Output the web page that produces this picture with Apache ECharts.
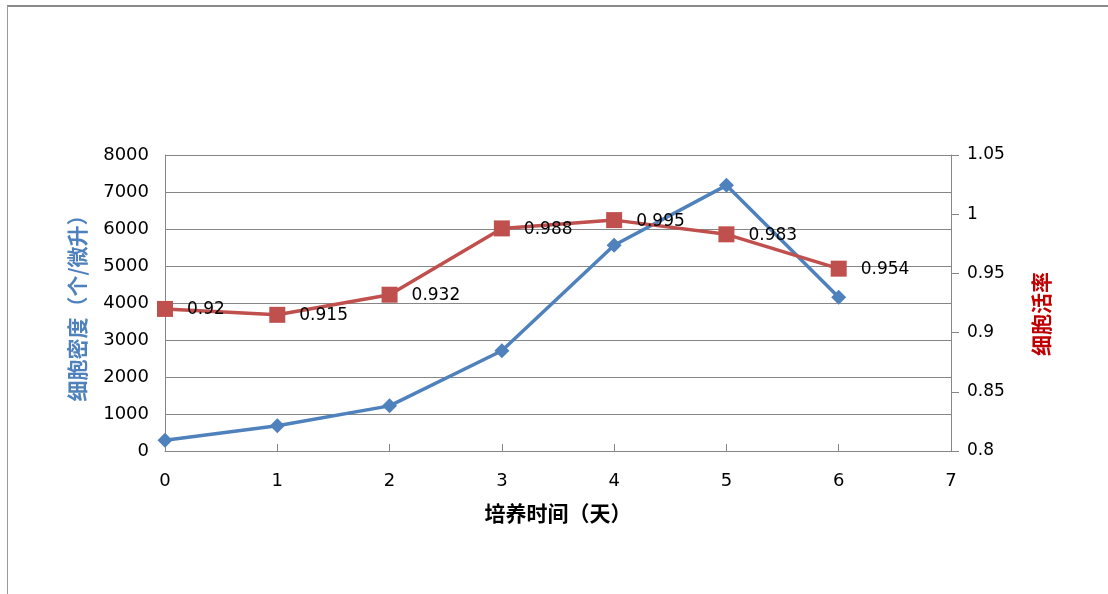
<!DOCTYPE html>
<html>
<head>
<meta charset="utf-8">
<script src="https://cdn.jsdelivr.net/npm/echarts@6/dist/echarts.min.js"></script>
<style>
  html, body { margin: 0; padding: 0; background: #fff; }
  #chart { width: 1108px; height: 594px; }
</style>
</head>
<body>
<div id="chart"></div>
<script>
// Culture days and measured values
const days = [0, 1, 2, 3, 4, 5, 6];
const density = [290, 680, 1220, 2710, 5560, 7180, 4155];      // cells per microlitre
const viability = [0.92, 0.915, 0.932, 0.988, 0.995, 0.983, 0.954];

const numFont = '"DejaVu Sans", "Liberation Sans", sans-serif';
const cjkFont = '"Noto Sans CJK SC", sans-serif';
const gridGray = '#868686';

const chart = echarts.init(document.getElementById('chart'), null, { renderer: 'canvas' });

chart.setOption({
  backgroundColor: '#ffffff',
  animation: false,
  graphic: [
    { type: 'line', shape: { x1: 7, y1: 6, x2: 1108, y2: 6 }, style: { stroke: '#8a8a8a', lineWidth: 2 } },
    { type: 'line', shape: { x1: 7.5, y1: 6, x2: 7.5, y2: 594 }, style: { stroke: '#9a9a9a', lineWidth: 1 } }
  ],
  grid: { left: 165, right: 157, top: 155, bottom: 143 },
  xAxis: {
    type: 'value',
    min: 0, max: 7, interval: 1,
    name: '培养时间（天）',
    nameLocation: 'middle',
    nameGap: 52,
    nameTextStyle: { fontFamily: cjkFont, fontSize: 21, fontWeight: 'bold', color: '#000' },
    axisLine: { show: true, lineStyle: { color: gridGray, width: 1 } },
    axisTick: { show: true, inside: true, length: 7, lineStyle: { color: gridGray } },
    axisLabel: { fontFamily: numFont, fontSize: 18, color: '#000', margin: 21 },
    splitLine: { show: false }
  },
  yAxis: [
    {
      type: 'value',
      min: 0, max: 8000, interval: 1000,
      position: 'left',
      name: '细胞密度（个/微升）',
      nameLocation: 'middle',
      nameRotate: 90,
      nameGap: 77,
      nameTextStyle: { fontFamily: cjkFont, fontSize: 21, fontWeight: 'bold', color: '#4f81bd' },
      axisLine: { show: true, lineStyle: { color: gridGray, width: 1 } },
      axisTick: { show: false },
      axisLabel: { fontFamily: numFont, fontSize: 18, color: '#000', margin: 16,
        formatter: v => String(v) },
      splitLine: { show: true, lineStyle: { color: gridGray, width: 1 } }
    },
    {
      type: 'value',
      min: 0.8, max: 1.05, interval: 0.05,
      position: 'right',
      name: '细胞活率',
      nameLocation: 'middle',
      nameRotate: 90,
      nameGap: 80,
      nameTextStyle: { fontFamily: cjkFont, fontSize: 21, fontWeight: 'bold', color: '#c00000',
        padding: [0, 22, 0, 0] },
      axisLine: { show: true, lineStyle: { color: gridGray, width: 1 } },
      axisTick: { show: true, length: 8, lineStyle: { color: gridGray } },
      axisLabel: { fontFamily: numFont, fontSize: 17, color: '#000', margin: 16,
        formatter: v => String(+v.toFixed(2)) },
      splitLine: { show: false }
    }
  ],
  series: [
    {
      name: '细胞密度',
      type: 'line',
      yAxisIndex: 0,
      data: days.map((d, i) => [d, density[i]]),
      symbol: 'diamond',
      symbolSize: 15,
      lineStyle: { color: '#4f81bd', width: 3.5 },
      itemStyle: { color: '#4f81bd' },
      z: 3
    },
    {
      name: '细胞活率',
      type: 'line',
      yAxisIndex: 1,
      data: days.map((d, i) => [d, viability[i]]),
      symbol: 'rect',
      symbolSize: 16,
      lineStyle: { color: '#c0504d', width: 3.5 },
      itemStyle: { color: '#c0504d' },
      label: {
        show: true,
        position: 'right',
        distance: 14,
        offset: [0, 1],
        fontFamily: numFont,
        fontSize: 17,
        color: '#000',
        formatter: p => String(p.value[1])
      },
      z: 4
    }
  ]
});
</script>
</body>
</html>
